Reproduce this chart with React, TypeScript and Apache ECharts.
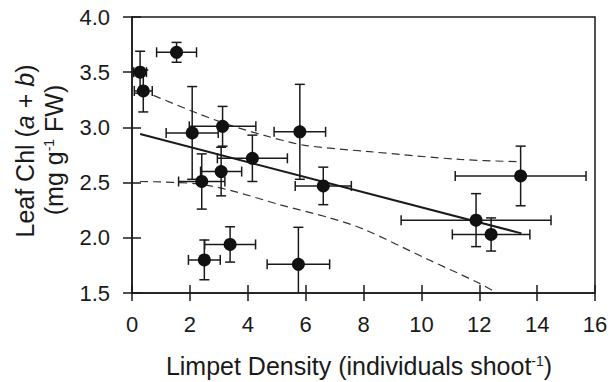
import React, { useEffect, useRef } from "react";
import * as echarts from "echarts";

// Observations (limpet density vs leaf chlorophyll), with SE bars
const xVals = [0.28, 0.39, 1.54, 2.08, 3.13, 5.80, 4.16, 3.08, 2.41, 3.39, 2.50, 5.75, 6.61, 13.43, 11.89, 12.41];
const yVals = [3.50, 3.33, 3.68, 2.95, 3.01, 2.96, 2.72, 2.60, 2.51, 1.94, 1.80, 1.76, 2.47, 2.56, 2.16, 2.03];
const xErr = [0.22, 0.31, 0.69, 0.90, 1.15, 0.89, 1.21, 0.71, 0.80, 0.88, 0.55, 1.08, 0.97, 2.26, 2.59, 1.34];
const yErr = [0.19, 0.19, 0.09, 0.42, 0.18, 0.43, 0.21, 0.22, 0.25, 0.16, 0.18, 0.335, 0.17, 0.27, 0.24, 0.15];

// Regression line
const regX = [0.28, 13.46];
const regY = [2.94, 2.04];

// Confidence band (dashed)
const upperX = [0.74, 2.24, 3.39, 4.54, 5.92, 8.22, 11.33, 13.29];
const upperY = [3.29, 3.13, 3.02, 2.93, 2.84, 2.78, 2.71, 2.69];
const lowerX = [0.28, 2.24, 3.39, 5.11, 6.84, 7.99, 10.18, 11.91, 12.48];
const lowerY = [2.51, 2.49, 2.43, 2.30, 2.18, 2.08, 1.81, 1.60, 1.52];

// Axes
const xMin = 0, xMax = 16, xStep = 2;
const yMin = 1.5, yMax = 4.0, yStep = 0.5;

const FONT = "Liberation Sans, Arial, Helvetica, sans-serif";
const INK = "#1a1a1a";

export default function App() {
  const ref = useRef<HTMLDivElement>(null);
  useEffect(() => {
    if (!ref.current) return;
    const chart = echarts.init(ref.current, null, { renderer: "svg" });
    const pts = xVals.map((x, i) => [x, yVals[i]]);
    const errs = xVals.map((x, i) => [x, yVals[i], xErr[i], yErr[i]]);
    const baseAxis = {
      axisLine: { show: true, lineStyle: { color: INK, width: 1.5 } },
      splitLine: { show: false },
    };
    const option: any = {
      animation: false,
      backgroundColor: "#ffffff",
      grid: {
        left: 132, right: 16, top: 17, bottom: 89,
        show: true, borderColor: INK, borderWidth: 1.5, backgroundColor: "transparent",
      },
      xAxis: [
        {
          ...baseAxis, type: "value", min: xMin, max: xMax, interval: xStep, position: "bottom",
          axisTick: { show: true, inside: false, length: 8, lineStyle: { color: INK, width: 1.5 } },
          axisLabel: { color: INK, fontFamily: FONT, fontSize: 22, margin: 20 },
        },
        {
          type: "value", min: xMin, max: xMax, interval: xStep, position: "bottom",
          axisLine: { show: false }, splitLine: { show: false },
          axisTick: { show: true, inside: true, length: 8, lineStyle: { color: INK, width: 1.5 } },
          axisLabel: { show: false },
        },
      ],
      yAxis: [
        {
          ...baseAxis, type: "value", min: yMin, max: yMax, interval: yStep, position: "left",
          axisTick: { show: true, inside: false, length: 9, lineStyle: { color: INK, width: 1.5 } },
          axisLabel: {
            color: INK, fontFamily: FONT, fontSize: 22, margin: 22,
            formatter: (v: number) => v.toFixed(1),
          },
        },
        {
          type: "value", min: yMin, max: yMax, interval: yStep, position: "left",
          axisLine: { show: false }, splitLine: { show: false },
          axisTick: { show: true, inside: true, length: 9, lineStyle: { color: INK, width: 1.5 } },
          axisLabel: { show: false },
        },
      ],
      series: [
        {
          type: "line", data: upperX.map((x, i) => [x, upperY[i]]), showSymbol: false, smooth: 0.3,
          lineStyle: { color: "#333", width: 1.2, type: [8, 5] }, z: 2,
        },
        {
          type: "line", data: lowerX.map((x, i) => [x, lowerY[i]]), showSymbol: false, smooth: 0.3,
          lineStyle: { color: "#333", width: 1.2, type: [8, 5] }, z: 2,
        },
        {
          type: "line", data: regX.map((x, i) => [x, regY[i]]), showSymbol: false,
          lineStyle: { color: INK, width: 2 }, z: 3,
        },
        {
          type: "custom", data: errs, clip: true, z: 4,
          encode: { x: 0, y: 1 },
          renderItem: (_p: any, api: any) => {
            const x = api.value(0), y = api.value(1), xe = api.value(2), ye = api.value(3);
            const l = api.coord([x - xe, y]);
            const r = api.coord([x + xe, y]);
            const t = api.coord([x, y + ye]);
            const b = api.coord([x, y - ye]);
            const cap = 5;
            const style = { stroke: INK, lineWidth: 1.5 };
            const ln = (x1: number, y1: number, x2: number, y2: number) => ({
              type: "line", shape: { x1, y1, x2, y2 }, style,
            });
            return {
              type: "group",
              children: [
                ln(l[0], l[1], r[0], r[1]),
                ln(l[0], l[1] - cap, l[0], l[1] + cap),
                ln(r[0], r[1] - cap, r[0], r[1] + cap),
                ln(t[0], t[1], b[0], b[1]),
                ln(t[0] - cap, t[1], t[0] + cap, t[1]),
                ln(b[0] - cap, b[1], b[0] + cap, b[1]),
              ],
            };
          },
        },
        {
          type: "scatter", data: pts, symbol: "circle", symbolSize: 13,
          itemStyle: { color: "#111", opacity: 1 }, z: 5,
        },
      ],
      graphic: [
        {
          type: "text", x: 25, y: 151, rotation: Math.PI / 2,
          style: {
            text: "Leaf Chl ({i|a} + {i|b})",
            fontFamily: FONT, fontSize: 25, fill: INK,
            align: "center", verticalAlign: "middle",
            textAlign: "center", textVerticalAlign: "middle",
            rich: { i: { fontFamily: FONT, fontSize: 25, fontStyle: "italic", fill: INK } },
          },
        },
        {
          type: "text", x: 54, y: 150, rotation: Math.PI / 2,
          style: {
            text: "(mg g{sup|-1} FW)",
            fontFamily: FONT, fontSize: 25, fill: INK,
            align: "center", verticalAlign: "middle",
            textAlign: "center", textVerticalAlign: "middle",
            rich: { sup: { fontFamily: FONT, fontSize: 14, fill: INK, verticalAlign: "top" } },
          },
        },
        {
          type: "text", x: 359, y: 366,
          style: {
            text: "Limpet Density (individuals shoot{sup|-1})",
            fontFamily: FONT, fontSize: 25, fill: INK,
            align: "center", verticalAlign: "middle",
            textAlign: "center", textVerticalAlign: "middle",
            rich: { sup: { fontFamily: FONT, fontSize: 14, fill: INK, verticalAlign: "top" } },
          },
        },
      ],
    };
    chart.setOption(option);
    return () => chart.dispose();
  }, []);
  return (
    <div
      ref={ref}
      style={{ position: "fixed", left: 0, top: 0, width: 611, height: 382, background: "#fff" }}
    />
  );
}
